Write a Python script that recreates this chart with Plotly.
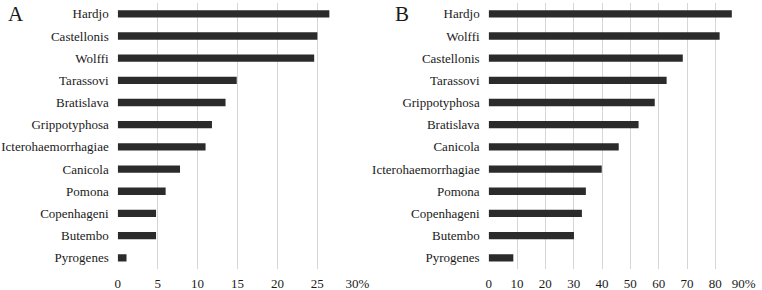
import plotly.graph_objects as go

cats_a = ["Hardjo", "Castellonis", "Wolffi", "Tarassovi", "Bratislava", "Grippotyphosa",
          "Icterohaemorrhagiae", "Canicola", "Pomona", "Copenhageni", "Butembo", "Pyrogenes"]
vals_a = [26.5, 25.0, 24.6, 14.9, 13.5, 11.8, 11.0, 7.8, 6.0, 4.8, 4.8, 1.1]

cats_b = ["Hardjo", "Wolffi", "Castellonis", "Tarassovi", "Grippotyphosa", "Bratislava",
          "Canicola", "Icterohaemorrhagiae", "Pomona", "Copenhageni", "Butembo", "Pyrogenes"]
vals_b = [85.8, 81.5, 68.5, 62.8, 58.6, 52.9, 45.9, 39.9, 34.3, 32.9, 30.1, 8.7]

ticks_a = [0, 5, 10, 15, 20, 25, 30]
ticklabels_a = ["0", "5", "10", "15", "20", "25", "30%"]
ticks_b = [0, 10, 20, 30, 40, 50, 60, 70, 80, 90]
ticklabels_b = ["0", "10", "20", "30", "40", "50", "60", "70", "80", "90%"]

BAR = "#2b2b2b"
GRID = "#d6d6d6"
FONT = "Liberation Serif"
TXT = "#1a1a1a"

fig = go.Figure()
fig.add_trace(go.Bar(x=vals_a, y=cats_a, orientation="h", marker_color=BAR,
                     marker_line_width=0, xaxis="x", yaxis="y", showlegend=False))
fig.add_trace(go.Bar(x=vals_b, y=cats_b, orientation="h", marker_color=BAR,
                     marker_line_width=0, xaxis="x2", yaxis="y2", showlegend=False))

ydom = [0.0728, 0.9907]
common_x = dict(showgrid=True, gridcolor=GRID, gridwidth=1, zeroline=False, showline=False,
                ticks="", ticklabelstandoff=5,
                tickfont=dict(family=FONT, size=13, color=TXT))
common_y = dict(autorange="reversed", showgrid=False, zeroline=False, showline=False,
                ticks="", ticklabelstandoff=8,
                tickfont=dict(family=FONT, size=13, color=TXT), domain=ydom)

fig.update_layout(
    template="none",
    font=dict(family=FONT, size=13, color=TXT),
    width=762, height=290, margin=dict(l=0, r=0, t=0, b=0, pad=0),
    paper_bgcolor="white", plot_bgcolor="white", bargap=0.67,
    xaxis=dict(domain=[0.1545, 0.4689], range=[0, 30], tickvals=ticks_a,
               ticktext=ticklabels_a, anchor="y", **common_x),
    yaxis=dict(anchor="x", **common_y),
    xaxis2=dict(domain=[0.6413, 0.976], range=[0, 90], tickvals=ticks_b,
                ticktext=ticklabels_b, anchor="y2", **common_x),
    yaxis2=dict(anchor="x2", **common_y),
    annotations=[
        dict(text="A", x=0.008, y=1.0, xref="paper", yref="paper", xanchor="left",
             yanchor="top", showarrow=False, font=dict(family=FONT, size=21, color=TXT)),
        dict(text="B", x=0.516, y=1.0, xref="paper", yref="paper", xanchor="left",
             yanchor="top", showarrow=False, font=dict(family=FONT, size=21, color=TXT)),
    ],
)

fig.write_html("out.html")
